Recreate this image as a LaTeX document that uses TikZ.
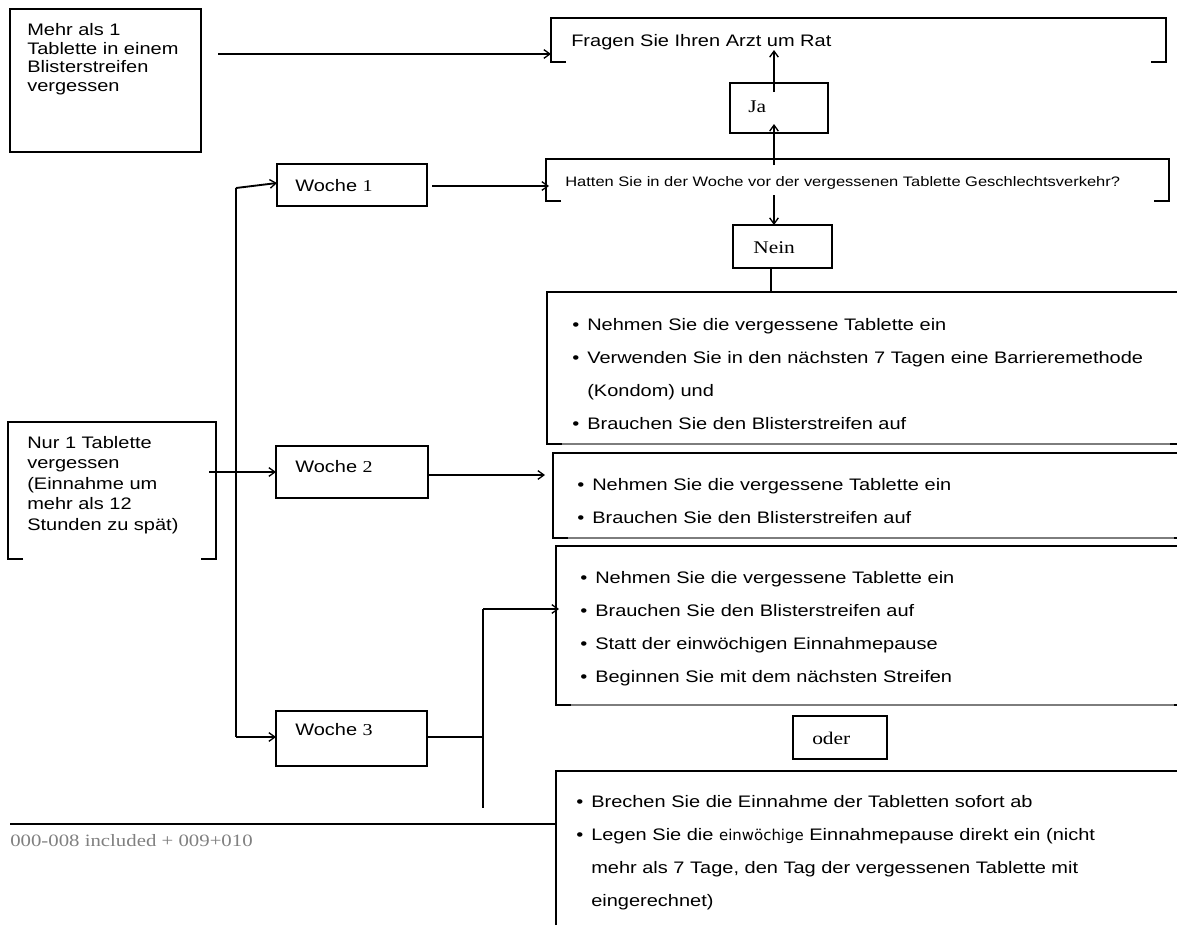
\documentclass[tikz,border=0pt]{standalone}
\usepackage{fontspec}
\newfontfamily\arw[FakeStretch=1.2]{Liberation Sans}
\newfontfamily\trw[FakeStretch=1.2]{Liberation Serif}
\newfontfamily\dvs{DejaVu Sans}
\usetikzlibrary{fit,calc,arrows.meta}
\definecolor{footgray}{RGB}{128,128,128}
\definecolor{rulegray}{RGB}{125,125,125}
\newcommand{\bl}[1]{\makebox[11.25pt][l]{•}#1}
\newcommand{\cl}[1]{\hspace*{11.25pt}#1}
\tikzset{
  ln/.style={line width=1.4pt, black},
  thin gray/.style={line width=0.8pt, rulegray},
  arr/.style={ln, -{Straight Barb[length=4.5pt,width=6.5pt,line width=1pt]}},
  area/.style={inner sep=0pt, outer sep=0pt},
  framed/.style={area, draw, line width=1.4pt},
  sans/.style={inner sep=0pt, align=left, font=\arw\fontsize{12.5}{15.4}\selectfont},
  list/.style={inner sep=0pt, align=left, font=\arw\fontsize{12.5}{24.75}\selectfont},
  small/.style={inner sep=0pt, font=\arw\fontsize{10.3}{12}\selectfont},
  serif/.style={inner sep=0pt, font=\trw\fontsize{13.4}{15}\selectfont},
}
\begin{document}
\begin{tikzpicture}[x=0.75pt,y=-0.75pt]
\useasboundingbox (0,0) rectangle (1177,925);
\clip (0,0) rectangle (1177,925);

% ---- shapes ----
\node[framed, fit={(10,9) (201,152)}] (boxA) {};
\node[area, fit={(551,18) (1166,62)}] (fragen) {};
\node[framed, fit={(730,83) (828,133)}] (ja) {};
\node[area, fit={(546,159) (1169,201)}] (hatten) {};
\node[framed, fit={(733,225) (832,268)}] (nein) {};
\node[framed, fit={(277,164) (427,206)}] (w1) {};
\node[framed, fit={(276,446) (428,498)}] (w2) {};
\node[framed, fit={(276,711) (427,766)}] (w3) {};
\node[area, fit={(8,422) (216,559)}] (boxB) {};
\node[area, fit={(547,292) (1177,444)}] (box3) {};
\node[area, fit={(553,453) (1177,538)}] (box4) {};
\node[area, fit={(556,546) (1177,705)}] (box5) {};
\node[framed, fit={(793,716) (887,759)}] (oder) {};
\node[area, fit={(556,771) (1177,925)}] (box6) {};

% bracket-shaped frames
\draw[ln] ($(fragen.south west)+(15,0)$) -- (fragen.south west) -- (fragen.north west)
  -- (fragen.north east) -- (fragen.south east) -- ++(-15,0);
\draw[ln] ($(hatten.south west)+(15,0)$) -- (hatten.south west) -- (hatten.north west)
  -- (hatten.north east) -- (hatten.south east) -- ++(-15,0);
\draw[ln] ($(boxB.south west)+(15,0)$) -- (boxB.south west) -- (boxB.north west)
  -- (boxB.north east) -- (boxB.south east) -- ++(-15,0);

% open frames on the right
\foreach \b in {box3,box4,box5}{
  \draw[thin gray] (\b.south west) -- (\b.south east);
  \draw[ln] ($(\b.south west)+(15,0)$) -- (\b.south west) -- (\b.north west) -- (\b.north east);
}
\draw[ln] ($(box3.south east)+(-7,0)$) -- (box3.south east);
\draw[ln] ($(box4.south east)+(-3,0)$) -- (box4.south east);
\draw[ln] ($(box5.south east)+(-3,0)$) -- (box5.south east);
\draw[ln] (box6.south west) -- (box6.north west) -- (box6.north east);

% ---- texts ----
\node[sans, anchor=north west, font=\arw\fontsize{12.5}{13.9}\selectfont] (tA) at (27,23.5)
  {Mehr als 1\\Tablette in einem\\Blisterstreifen\\vergessen};
\node[sans, anchor=north west] (tB) at (27,436)
  {Nur 1 Tablette\\vergessen\\(Einnahme um\\mehr als 12\\Stunden zu spät)};
\node[sans, anchor=base west] (tF) at (571,46) {Fragen Sie Ihren Arzt um Rat};
\node[serif, anchor=base west] (tJa) at (748,112) {Ja};
\node[small, anchor=base west] (tH) at (565,186)
  {Hatten Sie in der Woche vor der vergessenen Tablette Geschlechtsverkehr?};
\node[serif, anchor=base west] (tN) at (753,253) {Nein};
\node[sans, anchor=base west] (tW1) at (295,191) {Woche {\trw 1}};
\node[sans, anchor=base west] (tW2) at (295,472) {Woche {\trw 2}};
\node[sans, anchor=base west] (tW3) at (295,735) {Woche {\trw 3}};
\node[serif, anchor=base west] (tO) at (812,744) {oder};

\node[list, anchor=north west] (t3) at (572,318)
  {\bl{Nehmen Sie die vergessene Tablette ein}\\
   \bl{Verwenden Sie in den nächsten 7 Tagen eine Barrieremethode}\\
   \cl{(Kondom) und}\\
   \bl{Brauchen Sie den Blisterstreifen auf}};
\node[list, anchor=north west] (t4) at (577,478)
  {\bl{Nehmen Sie die vergessene Tablette ein}\\
   \bl{Brauchen Sie den Blisterstreifen auf}};
\node[list, anchor=north west] (t5) at (580,571)
  {\bl{Nehmen Sie die vergessene Tablette ein}\\
   \bl{Brauchen Sie den Blisterstreifen auf}\\
   \bl{Statt der einwöchigen Einnahmepause}\\
   \bl{Beginnen Sie mit dem nächsten Streifen}};
\node[list, anchor=north west] (t6) at (576,795)
  {\bl{Brechen Sie die Einnahme der Tabletten sofort ab}\\
   \bl{Legen Sie die {\dvs\fontsize{11.2}{24.75}\selectfont einwöchige} Einnahmepause direkt ein (nicht}\\
   \cl{mehr als 7 Tage, den Tag der vergessenen Tablette mit}\\
   \cl{eingerechnet)}};

\node[inner sep=0pt, anchor=base west, text=footgray, font=\trw\fontsize{13}{15}\selectfont]
  (foot) at (10,846) {000-008 included + 009+010};

% ---- connectors ----
\coordinate (aOut) at (218,54);
\draw[arr] (aOut) -- (aOut -| fragen.west);

\coordinate (jaUp) at (774,92);
\coordinate (fragIn) at (774,50);
\draw[arr] (jaUp) -- (fragIn);

\coordinate (hatUp) at (774,165);
\coordinate (jaIn) at (774,124);
\draw[arr] (hatUp) -- (jaIn);

\coordinate (hatDown) at (774,195);
\draw[arr] (hatDown) -- (hatDown |- nein.north);

\coordinate (neinOut) at (771,268);
\draw[ln] (neinOut) -- (neinOut |- box3.north);

\coordinate (w1Out) at (432,186);
\draw[arr] (w1Out) -- ($(w1Out -| hatten.west)+(3,0)$);

\coordinate (w2Out) at (427,475);
\draw[arr] (w2Out) -- ($(w2Out -| box4.west)+(-8,0)$);

\coordinate (bOut) at (209,472);
\draw[arr] (bOut) -- (bOut -| w2.west);

\coordinate (vTop) at (236,188);
\coordinate (vBot) at (236,737);
\draw[ln] (vTop) -- (vBot);
\draw[arr] (vTop) -- ($(w1.west)+(0,-2)$);
\draw[arr] (vBot) -- (vBot -| w3.west);

\coordinate (j3) at (483,737);
\coordinate (j3Top) at (483,609);
\coordinate (j3Bot) at (483,808);
\draw[ln] (w3.east |- j3) -- (j3);
\draw[ln] (j3Top) -- (j3Bot);
\draw[arr] (j3Top) -- ($(j3Top -| box5.west)+(3,0)$);

\coordinate (footL) at (10,824);
\draw[ln] (footL) -- (footL -| box6.west);
\end{tikzpicture}
\end{document}
